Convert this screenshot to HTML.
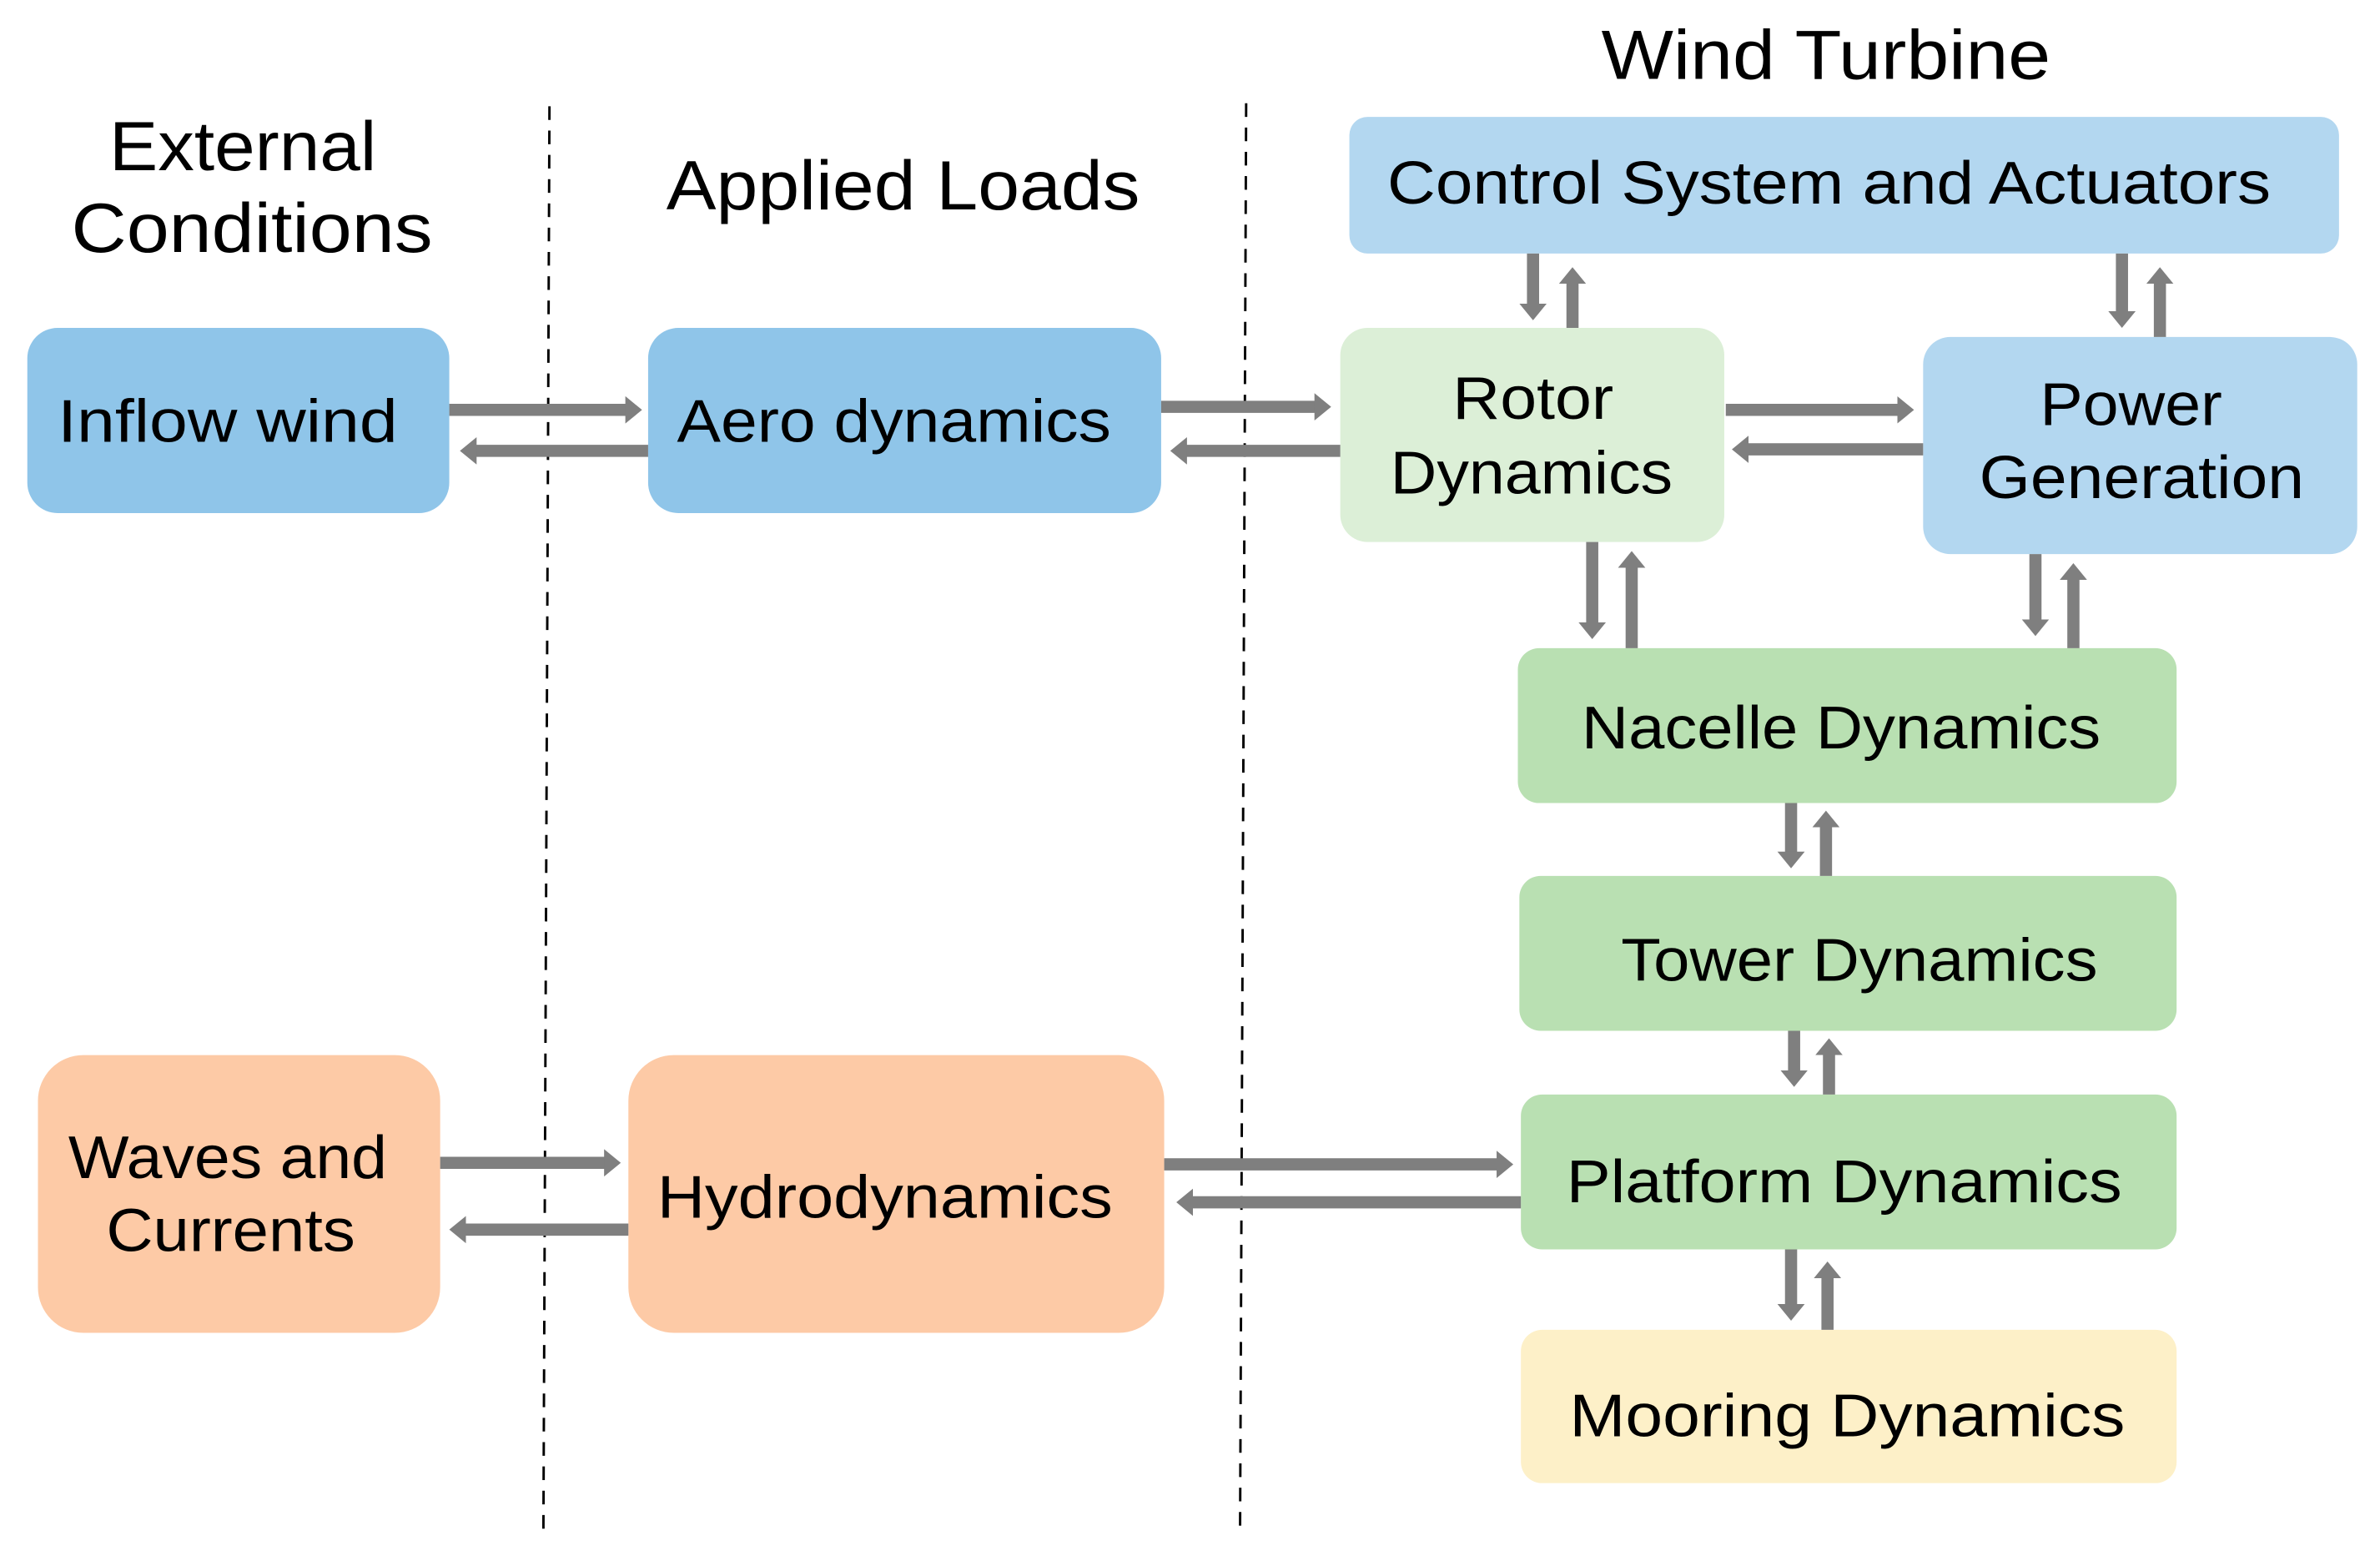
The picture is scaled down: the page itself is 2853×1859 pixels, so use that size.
<!DOCTYPE html>
<html><head><meta charset="utf-8"><style>
html,body{margin:0;padding:0;background:#fff;}
svg{display:block;}
text{font-family:"Liberation Sans",sans-serif;fill:#000;}
</style></head><body>
<svg width="2853" height="1859" viewBox="0 0 1568 1021.7" xmlns="http://www.w3.org/2000/svg">
<defs>
<marker id="ah" markerUnits="userSpaceOnUse" markerWidth="12" markerHeight="20" refX="2" refY="10" orient="auto">
<polygon points="0,1 11,10 0,19" fill="#7f7f7f"/>
</marker>
</defs>
<!-- dashed lines -->
<line x1="362" y1="70" x2="358" y2="1010" stroke="#000" stroke-width="1.6" stroke-dasharray="9,7"/>
<line x1="821" y1="68" x2="817" y2="1006" stroke="#000" stroke-width="1.6" stroke-dasharray="9,7"/>
<!-- titles -->
<text x="160" y="112" font-size="46" text-anchor="middle" textLength="176" lengthAdjust="spacingAndGlyphs">External</text>
<text x="166" y="166" font-size="46" text-anchor="middle" textLength="238" lengthAdjust="spacingAndGlyphs">Conditions</text>
<text x="595" y="138" font-size="46" text-anchor="middle" textLength="312" lengthAdjust="spacingAndGlyphs">Applied Loads</text>
<text x="1203" y="52" font-size="46" text-anchor="middle" textLength="296" lengthAdjust="spacingAndGlyphs">Wind Turbine</text>
<!-- boxes -->
<rect x="18" y="216" width="278" height="122" rx="20" fill="#8fc5e9"/>
<rect x="427" y="216" width="338" height="122" rx="20" fill="#8fc5e9"/>
<rect x="889" y="77" width="652" height="90" rx="12" fill="#b3d7f0"/>
<rect x="883" y="216" width="253" height="141" rx="18" fill="#dcefd7"/>
<rect x="1267" y="222" width="286" height="143" rx="18" fill="#b3d7f0"/>
<rect x="1000" y="427" width="434" height="102" rx="14" fill="#b9e0b2"/>
<rect x="1001" y="577" width="433" height="102" rx="14" fill="#b9e0b2"/>
<rect x="1002" y="721" width="432" height="102" rx="14" fill="#b9e0b2"/>
<rect x="1002" y="876" width="432" height="101" rx="14" fill="#fdf0c8"/>
<rect x="25" y="695" width="265" height="183" rx="30" fill="#fdcaa6"/>
<rect x="414" y="695" width="353" height="183" rx="30" fill="#fdcaa6"/>
<!-- box texts -->
<g font-size="40">
<text x="150" y="291" text-anchor="middle" textLength="224" lengthAdjust="spacingAndGlyphs">Inflow wind</text>
<text x="589" y="291" text-anchor="middle" textLength="286" lengthAdjust="spacingAndGlyphs">Aero dynamics</text>
<text x="1205" y="134" text-anchor="middle" textLength="582" lengthAdjust="spacingAndGlyphs">Control System and Actuators</text>
<text x="1010" y="276" text-anchor="middle" textLength="106" lengthAdjust="spacingAndGlyphs">Rotor</text>
<text x="1009" y="325" text-anchor="middle" textLength="186" lengthAdjust="spacingAndGlyphs">Dynamics</text>
<text x="1404" y="280" text-anchor="middle" textLength="120" lengthAdjust="spacingAndGlyphs">Power</text>
<text x="1411" y="328" text-anchor="middle" textLength="214" lengthAdjust="spacingAndGlyphs">Generation</text>
<text x="1213" y="493" text-anchor="middle" textLength="342" lengthAdjust="spacingAndGlyphs">Nacelle Dynamics</text>
<text x="1225" y="646" text-anchor="middle" textLength="314" lengthAdjust="spacingAndGlyphs">Tower Dynamics</text>
<text x="1215" y="792" text-anchor="middle" textLength="366" lengthAdjust="spacingAndGlyphs">Platform Dynamics</text>
<text x="1217" y="946" text-anchor="middle" textLength="366" lengthAdjust="spacingAndGlyphs">Mooring Dynamics</text>
<text x="150" y="776" text-anchor="middle" textLength="210" lengthAdjust="spacingAndGlyphs">Waves and</text>
<text x="152" y="824" text-anchor="middle" textLength="164" lengthAdjust="spacingAndGlyphs">Currents</text>
<text x="583" y="802" text-anchor="middle" textLength="300" lengthAdjust="spacingAndGlyphs">Hydrodynamics</text>
</g>
<!-- arrows -->
<g stroke="#7f7f7f" stroke-width="8" marker-end="url(#ah)">
<line x1="296" y1="270" x2="414" y2="270"/>
<line x1="427" y1="297" x2="312" y2="297"/>
<line x1="765" y1="268" x2="868" y2="268"/>
<line x1="883" y1="297" x2="780" y2="297"/>
<line x1="1137" y1="270" x2="1252" y2="270"/>
<line x1="1267" y1="296" x2="1150" y2="296"/>
<line x1="1010" y1="167" x2="1010" y2="202"/>
<line x1="1036" y1="216" x2="1036" y2="185"/>
<line x1="1398" y1="167" x2="1398" y2="207"/>
<line x1="1423" y1="222" x2="1423" y2="185"/>
<line x1="1049" y1="357" x2="1049" y2="412"/>
<line x1="1075" y1="427" x2="1075" y2="372"/>
<line x1="1341" y1="365" x2="1341" y2="410"/>
<line x1="1366" y1="427" x2="1366" y2="380"/>
<line x1="1180" y1="529" x2="1180" y2="563"/>
<line x1="1203" y1="577" x2="1203" y2="543"/>
<line x1="1182" y1="679" x2="1182" y2="707"/>
<line x1="1205" y1="721" x2="1205" y2="693"/>
<line x1="1180" y1="823" x2="1180" y2="861"/>
<line x1="1204" y1="876" x2="1204" y2="840"/>
<line x1="290" y1="766" x2="400" y2="766"/>
<line x1="414" y1="810" x2="305" y2="810"/>
<line x1="767" y1="767" x2="988" y2="767"/>
<line x1="1002" y1="792" x2="784" y2="792"/>
</g>
</svg>
</body></html>
